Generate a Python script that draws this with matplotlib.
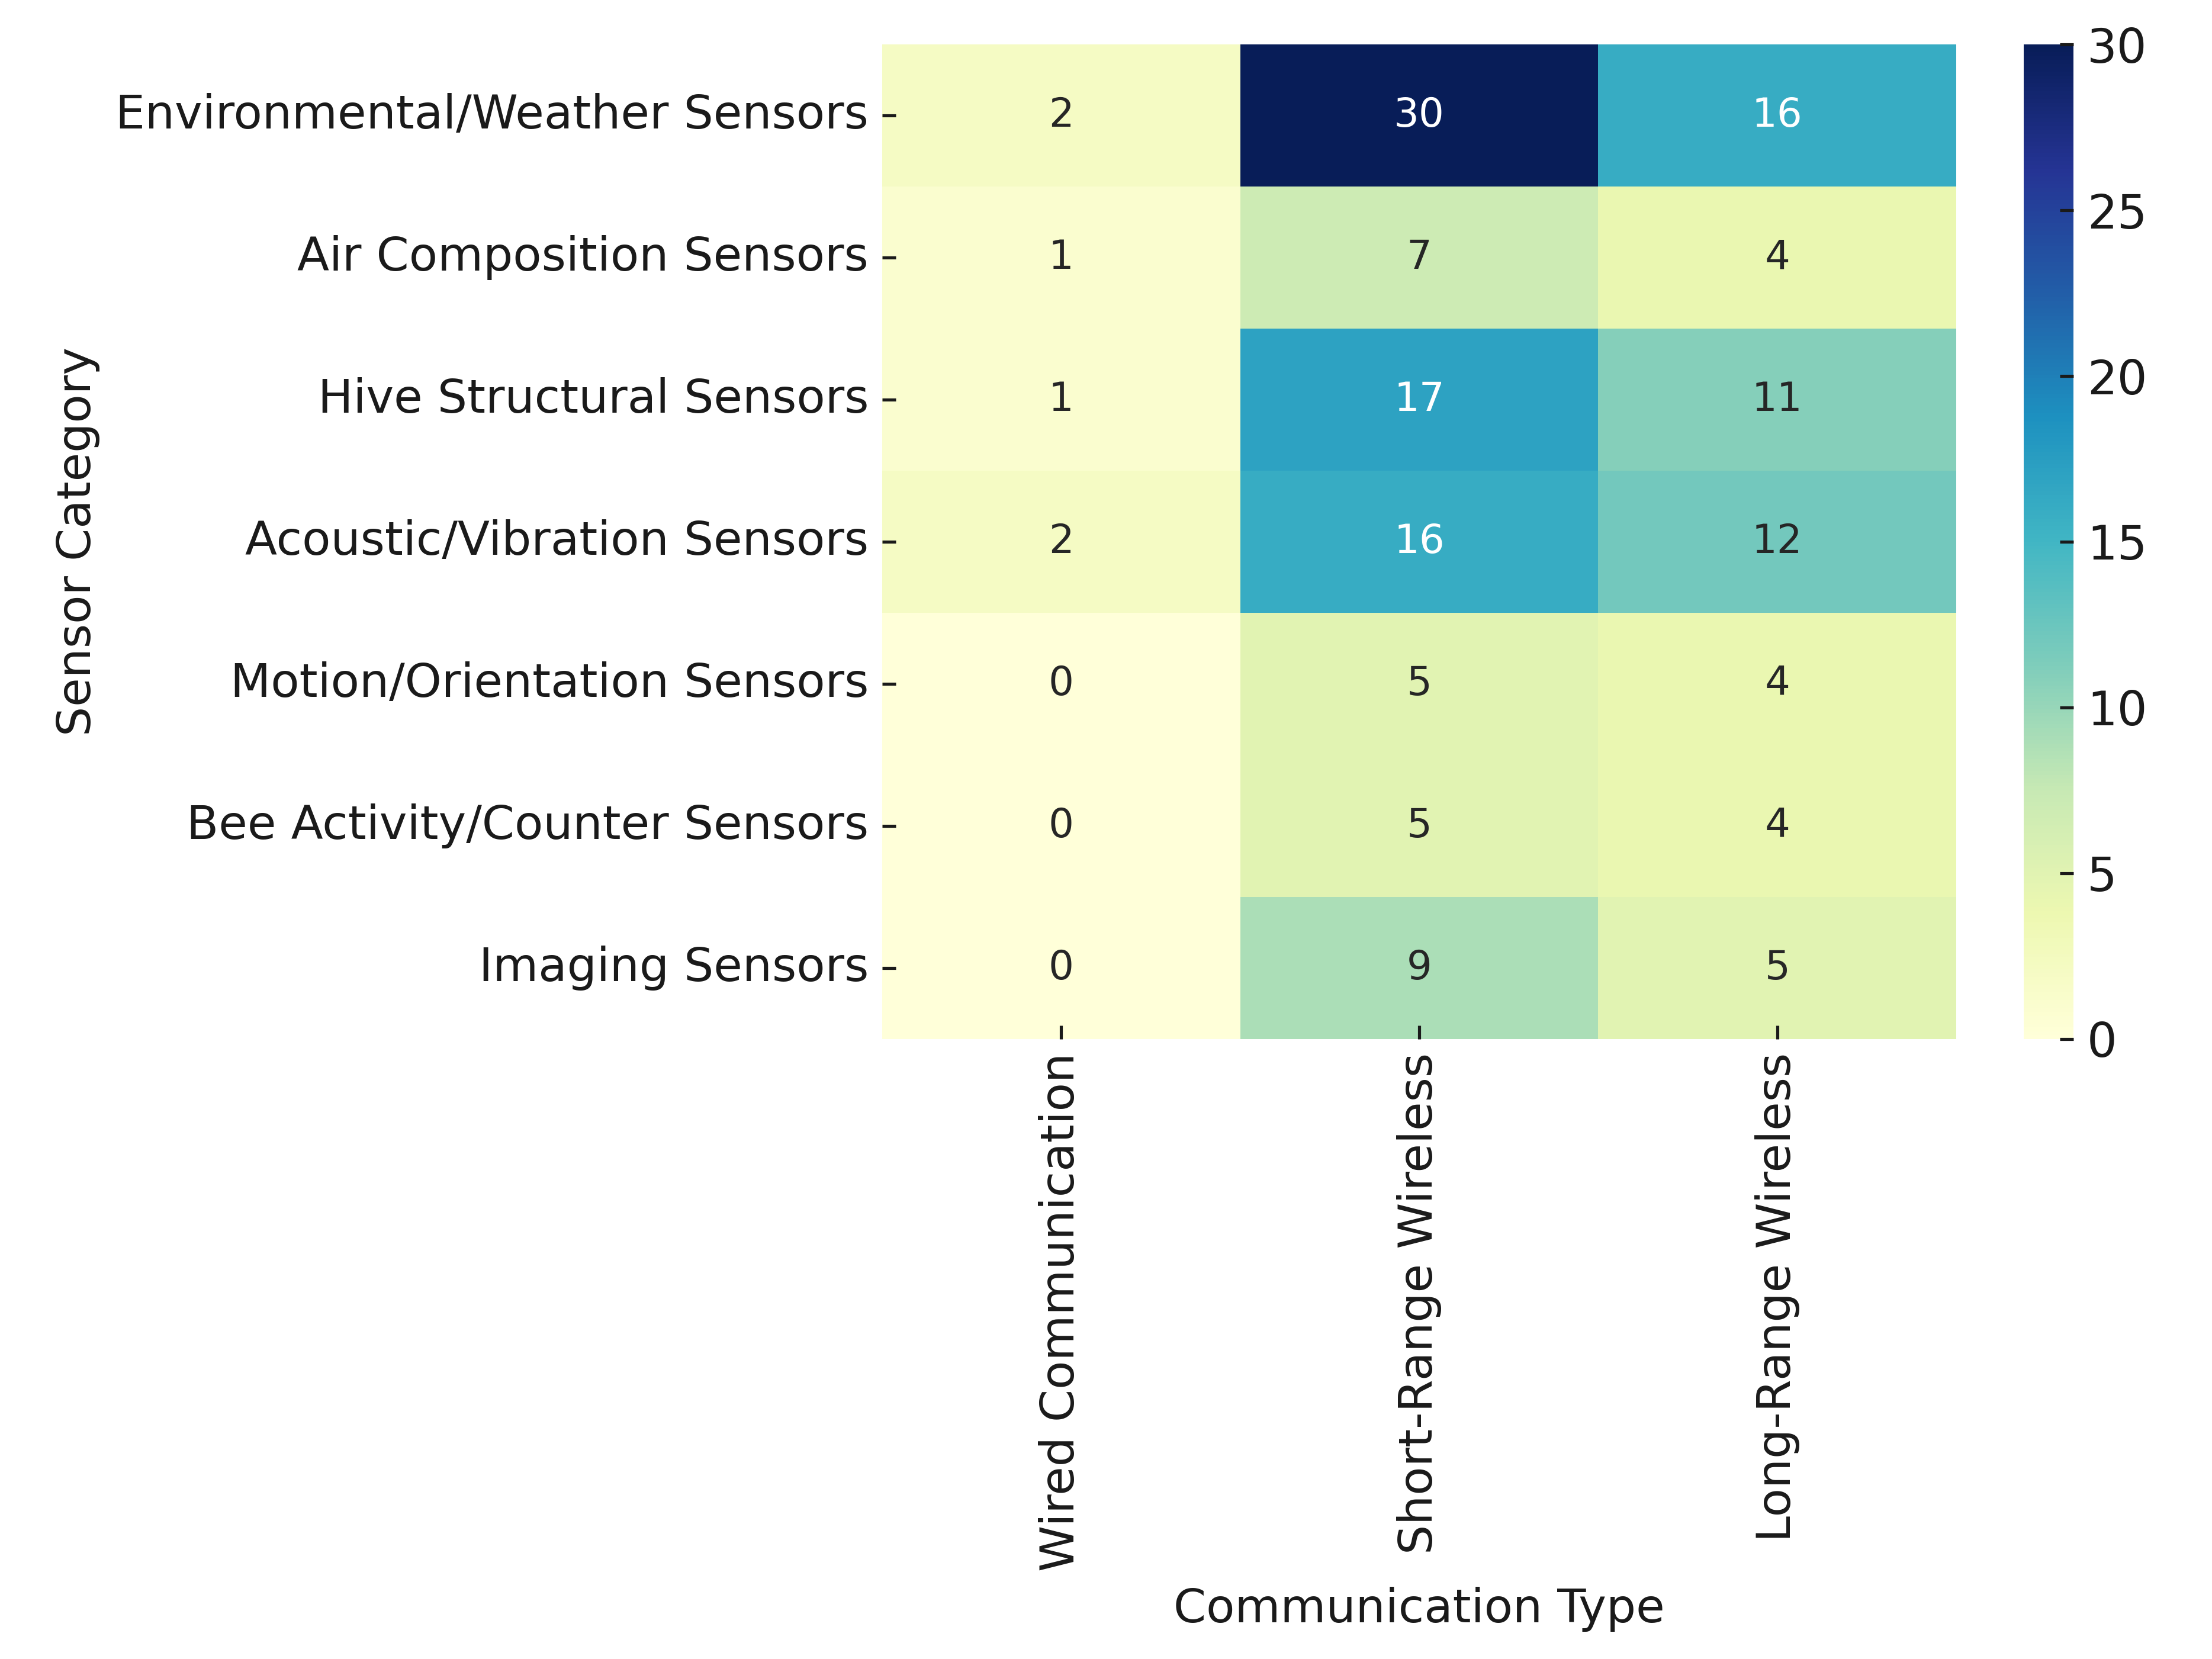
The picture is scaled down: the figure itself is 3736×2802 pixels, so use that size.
import matplotlib
matplotlib.use("Agg")
import matplotlib.pyplot as plt
import seaborn as sns
import numpy as np
import pandas as pd

categories = ["Environmental/Weather Sensors", "Air Composition Sensors", "Hive Structural Sensors",
              "Acoustic/Vibration Sensors", "Motion/Orientation Sensors", "Bee Activity/Counter Sensors",
              "Imaging Sensors"]
comm_types = ["Wired Communication", "Short-Range Wireless", "Long-Range Wireless"]
wired = [2, 1, 1, 2, 0, 0, 0]
short_range = [30, 7, 17, 16, 5, 5, 9]
long_range = [16, 4, 11, 12, 4, 4, 5]

df = pd.DataFrame({comm_types[0]: wired, comm_types[1]: short_range, comm_types[2]: long_range},
                  index=categories)

plt.rcParams['font.family'] = ['DejaVu Sans']
plt.rcParams['xtick.direction'] = 'in'
plt.rcParams['ytick.direction'] = 'in'
plt.rcParams['text.color'] = '#1a1a1a'
plt.rcParams['axes.labelcolor'] = '#1a1a1a'
plt.rcParams['xtick.color'] = '#1a1a1a'
plt.rcParams['ytick.color'] = '#1a1a1a'

fig = plt.figure(figsize=(8, 6))
ax = fig.add_axes([0.3988, 0.3737, 0.8844 - 0.3988, 0.9732 - 0.3737])
cax = fig.add_axes([0.9149, 0.3737, 0.0225, 0.9732 - 0.3737])
sns.heatmap(df, annot=True, fmt="d", cmap="YlGnBu", vmin=0, vmax=30, ax=ax, cbar_ax=cax,
            annot_kws={"size": 10.4})
ax.set_xlabel("Communication Type", fontsize=12.2)
ax.set_ylabel("Sensor Category", fontsize=12.2)
ax.tick_params(axis='both', labelsize=12.2, length=3.5, width=0.8)
cax.tick_params(labelsize=12.3, length=3.5, width=0.8, direction='in')
fig.savefig("out.png", dpi=467)
